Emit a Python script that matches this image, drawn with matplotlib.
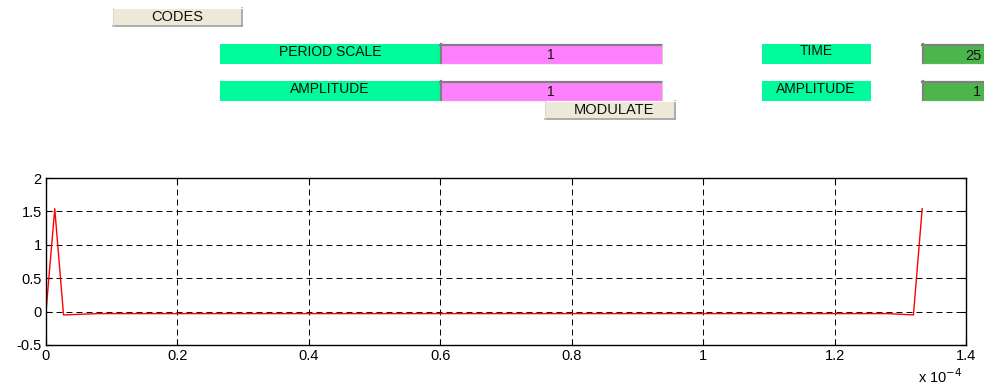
import matplotlib
matplotlib.use("Agg")
import matplotlib.pyplot as plt
from matplotlib.patches import Rectangle

plt.rcParams['font.family'] = ['Liberation Sans', 'DejaVu Sans']
plt.rcParams['lines.scale_dashes'] = False

# ---- data ----
t_values = [0.0, 1.333e-6, 2.667e-6, 8.0e-6, 1.28e-4, 1.32e-4, 1.3333e-4]
y_values = [0.0, 1.54, -0.05, -0.03, -0.03, -0.05, 1.54]
x_ticks = [0.0, 0.2, 0.4, 0.6, 0.8, 1.0, 1.2, 1.4]
x_tick_labels = ['0', '0.2', '0.4', '0.6', '0.8', '1', '1.2', '1.4']
y_ticks = [-0.5, 0, 0.5, 1, 1.5, 2]
y_tick_labels = ['-0.5', '0', '0.5', '1', '1.5', '2']
period_scale = '1'
amplitude_in = '1'
time_value = '25'
amplitude_out = '1'

W, H = 984, 385
fig = plt.figure(figsize=(W / 100, H / 100), dpi=100)
fig.patch.set_facecolor('white')

# ---- main axes ----
ax = fig.add_axes([46 / W, (H - 345) / H, 920 / W, 167 / H])
ax.plot(t_values, y_values, color='red', linewidth=1.0)
ax.set_xlim(0, 1.4e-4)
ax.set_ylim(-0.5, 2)
ax.set_xticks([v * 1e-4 for v in x_ticks])
ax.set_xticklabels(x_tick_labels)
ax.set_yticks(y_ticks)
ax.set_yticklabels(y_tick_labels)
ax.tick_params(direction='in', length=4, width=0.8, labelsize=10.5,
               top=True, right=True, pad=3, colors='black')
ax.grid(True, color='black', linestyle=(0, (4.3, 2.9)), linewidth=0.7)
for s in ax.spines.values():
    s.set_linewidth(1.0)
    s.set_color('black')
fig.text(918 / W, 1 - 383 / H, r'x 10$^{-4}$', fontsize=10.5, ha='left', va='baseline')

# ---- GUI overlay ----
gx = fig.add_axes([0, 0, 1, 1], zorder=-1)
gx.set_xlim(0, W)
gx.set_ylim(H, 0)
gx.axis('off')

GREEN = '#00fc9a'
PINK = '#ff80ff'
DGREEN = '#4cb64c'
BTN = '#ece9d8'


def box(x0, y0, x1, y1, color, sunken=False, button=False):
    gx.add_patch(Rectangle((x0, y0), x1 - x0, y1 - y0, facecolor=color,
                           edgecolor='none'))
    if sunken:
        gx.plot([x0, x1], [y0 + 0.8, y0 + 0.8], color='#808080', lw=1.6)
        gx.plot([x0 + 0.8, x0 + 0.8], [y0, y1], color='#808080', lw=1.6)
        gx.plot([x1, x1], [y0, y1], color='#d4d0c8', lw=0.8)
        gx.plot([x0, x1], [y1, y1], color='#f0f0f0', lw=0.8)
    if button:
        gx.plot([x0, x1], [y1, y1], color='#a0a0a0', lw=1.2)
        gx.plot([x1, x1], [y0, y1], color='#a0a0a0', lw=1.2)
        gx.plot([x0, x1], [y0, y0], color='white', lw=0.8)
        gx.plot([x0, x0], [y0, y1], color='#d8d8d8', lw=0.8)


def label(x, y, s, size=10):
    gx.text(x, y, s, ha='center', va='center', fontsize=size, color='#111111')


# CODES button
box(113, 8, 242, 26, BTN, button=True)
label(177, 17, 'CODES', 10.5)

# Period scale row
box(220, 44, 440, 64, GREEN)
label(330, 52, 'PERIOD SCALE')
box(440, 44, 662, 64, PINK, sunken=True)
label(551, 55, period_scale)

# Amplitude row
box(220, 81, 440, 101, GREEN)
label(330, 89, 'AMPLITUDE')
box(440, 81, 662, 101, PINK, sunken=True)
label(551, 92, amplitude_in)

# Modulate button
box(545, 101, 675, 119, BTN, button=True)
label(614, 110, 'MODULATE', 10.5)

# Right side
box(762, 44, 871, 64, GREEN)
label(816, 51, 'TIME')
box(922, 44, 990, 64, DGREEN, sunken=True)
gx.text(981, 56, time_value, ha='right', va='center', fontsize=10.5, color='#111111')

box(762, 81, 871, 101, GREEN)
label(816, 89, 'AMPLITUDE')
box(922, 81, 990, 101, DGREEN, sunken=True)
gx.text(981, 92, amplitude_out, ha='right', va='center', fontsize=10.5, color='#111111')

fig.savefig('out.png', dpi=100, facecolor='white')
